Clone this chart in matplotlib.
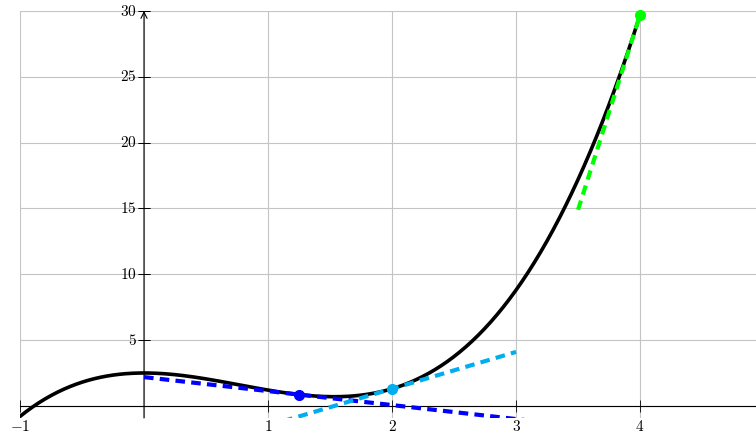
import numpy as np
import matplotlib
matplotlib.use("Agg")
import matplotlib.pyplot as plt
from matplotlib.ticker import FixedLocator

plt.rcParams['mathtext.fontset'] = 'cm'

# cubic: y = x^3 - 2.3 x^2 + 2.5
curve_coeffs = [1.0, -2.3, 0.0, 2.5]
curve_range = (-1.0, 4.0)

# tangent points and the x-span each tangent is drawn over
tangent_x = [1.25, 2.0, 4.0]
tangent_span = [(0.0, 3.5), (1.0, 3.0), (3.5, 4.0)]
tangent_colors = ['#0000ff', '#00aeef', '#00ff00']

x_ticks = [-1, 1, 2, 3, 4]
y_ticks = [5, 10, 15, 20, 25, 30]

fig = plt.figure(figsize=(7.56, 4.36), dpi=100)
ax = fig.add_axes([20 / 756, 18 / 436, 736 / 756, 407 / 436])
ax.set_xlim(-1, 4.935)
ax.set_ylim(-0.92, 30)

# grid
for gx in range(-1, 5):
    ax.axvline(gx, color='#c4c4c4', lw=0.8, zorder=0)
for gy in range(0, 31, 5):
    ax.axhline(gy, color='#c4c4c4', lw=0.8, zorder=0)

for s in ['top', 'right', 'left']:
    ax.spines[s].set_visible(False)
ax.spines['bottom'].set_position(('data', 0))
ax.spines['bottom'].set_linewidth(0.8)

# y axis with arrow
ax.annotate('', xy=(0, 30), xytext=(0, -0.92),
            arrowprops=dict(arrowstyle='->', lw=0.8, color='black',
                            shrinkA=0, shrinkB=0, mutation_scale=11),
            annotation_clip=False, zorder=3)

ax.xaxis.set_major_locator(FixedLocator(x_ticks))
ax.set_xticklabels([r'$%d$' % v for v in x_ticks])
ax.tick_params(axis='x', direction='inout', length=9, width=0.6, pad=5,
               labelsize=11)
ax.yaxis.set_visible(False)
for v in y_ticks:
    ax.plot([0, 0], [v, v], marker='_', ms=9, mew=0.6, color='black',
            zorder=3, clip_on=False)
    ax.text(-0.06, v, r'$%d$' % v, ha='right', va='center', fontsize=11)

xs = np.linspace(curve_range[0], curve_range[1], 400)
ax.plot(xs, np.polyval(curve_coeffs, xs), color='black', lw=2.6, zorder=4)

deriv = np.polyder(curve_coeffs)
for tx, (a, b), c in zip(tangent_x, tangent_span, tangent_colors):
    ty = np.polyval(curve_coeffs, tx)
    slope = np.polyval(deriv, tx)
    lx = np.array([a, b])
    ax.plot(lx, ty + slope * (lx - tx), color=c, lw=3.0, ls=(0, (2.3, 1.5)),
            zorder=5)
    ax.plot(tx, ty, 'o', color=c, ms=7, zorder=6, clip_on=False)

fig.savefig('out.png', dpi=100)
